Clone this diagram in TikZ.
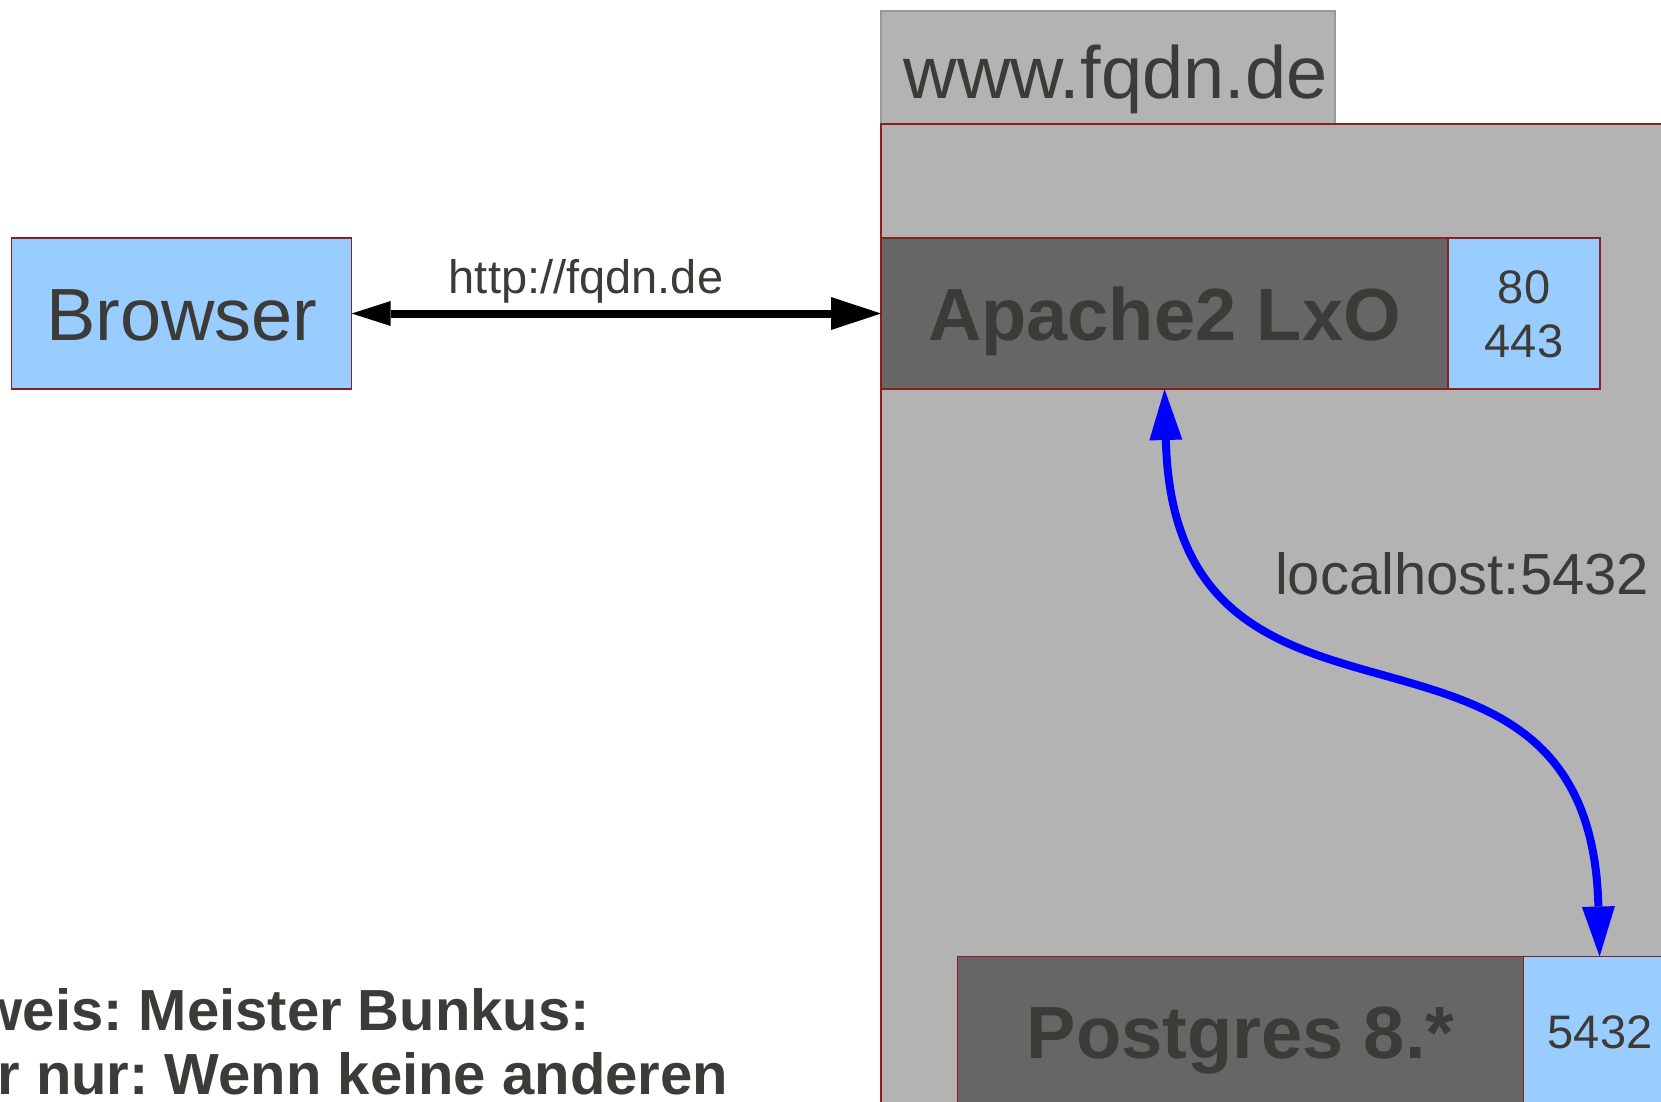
\documentclass[tikz,border=0pt]{standalone}
\usepackage{fontspec}
\setmainfont{Liberation Sans}
\usetikzlibrary{arrows.meta}
\definecolor{boxgray}{HTML}{B3B3B3}
\definecolor{darkbox}{HTML}{666666}
\definecolor{portblue}{HTML}{99CCFF}
\definecolor{txt}{HTML}{3C3B37}
\definecolor{bord}{HTML}{8C1E1E}
\definecolor{tabbord}{HTML}{999999}
\frenchspacing
\begin{document}
\begin{tikzpicture}[x=1pt,y=-1pt,
  every node/.style={inner sep=0pt,outer sep=0pt,text=txt},
  hostarea/.style={fill=boxgray,draw=bord,line width=1.5pt},
  tabbox/.style={fill=boxgray,draw=tabbord,line width=1.3pt},
  bigfont/.style={font=\fontsize{74}{80}\selectfont},
  bigbold/.style={font=\fontsize{74}{80}\selectfont\bfseries},
  midfont/.style={font=\fontsize{58}{64}\selectfont},
  midbold/.style={font=\fontsize{58}{64}\selectfont\bfseries},
  smallfont/.style={font=\fontsize{47}{54}\selectfont},
  svcbox/.style={rectangle,fill=darkbox,draw=bord,line width=1.5pt,minimum height=151pt,text height=53pt,text depth=0pt,bigbold},
  clientbox/.style={rectangle,fill=portblue,draw=bord,line width=1.5pt,minimum height=151pt,text height=53pt,text depth=0pt,bigfont},
  portbox/.style={rectangle,fill=portblue,draw=bord,line width=1.5pt,minimum width=152pt,minimum height=151pt},
  webarrow/.style={line width=8pt,draw=black,{Triangle[length=39pt,width=25pt,line width=0pt]}-{Triangle[length=50pt,width=33pt,line width=0pt]}},
  dbarrow/.style={line width=8pt,draw=blue,{Triangle[length=51pt,width=33pt,line width=0pt]}-{Triangle[length=50pt,width=33pt,line width=0pt]}}
]
\useasboundingbox (0,0) rectangle (1661,1101);
\fill[white] (0,0) rectangle (1661,1101);

% host tab and area
\path[tabbox] (881,11) rectangle (1335,124);
\node[anchor=base,bigfont] (host) at (1115.5,98) {www.fqdn.de};
\path[hostarea] (881,124) rectangle (1720,1180);

% boxes
\node[clientbox,minimum width=340pt] (browser) at (181.7,313.5) {Browser};
\node[svcbox,minimum width=567pt] (apache) at (1164.5,313.5) {Apache2 LxO};
\node[portbox] (p1) at (1524,313.5) {};
\node[anchor=base,smallfont] (p80) at (1524,303) {80};
\node[anchor=base,smallfont] (p443) at (1524,357) {443};
\node[svcbox,minimum width=566pt] (pg) at (1240.6,1032) {Postgres 8.*};
\node[portbox] (p2) at (1599.6,1032) {};
\node[anchor=base,smallfont] (p5432) at (1600,1048) {5432};

% connectors
\draw[webarrow] (browser.east) -- (apache.west);
\node[anchor=base,smallfont] (httplbl) at (586,293.5) {http://fqdn.de};
\draw[dbarrow] (apache.south) .. controls (1175,790) and (1590,561) .. (p2.north);
\node[anchor=base west,midfont] (lhlbl) at (1275,594) {localhost:5432};

% note
\node[anchor=base east,midbold] (note1) at (590,1030) {weis: Meister Bunkus:};
\node[anchor=base east,midbold] (note2) at (728,1094) {r nur: Wenn keine anderen};
\end{tikzpicture}
\end{document}
